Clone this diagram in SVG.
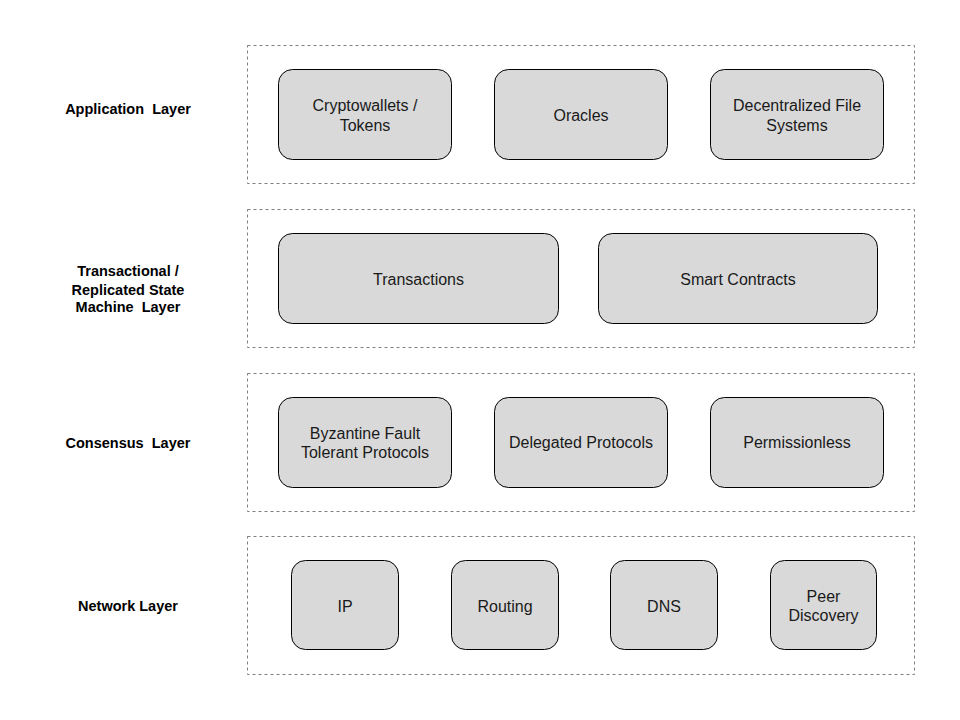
<svg xmlns="http://www.w3.org/2000/svg" width="960" height="720" viewBox="0 0 960 720">
<style>
.layer{fill:none;stroke:#808080;stroke-width:1;stroke-dasharray:3,3}
.node{fill:#d9d9d9;stroke:#000;stroke-width:1}
.t{font-family:"Liberation Sans",Arial,sans-serif;font-size:16px;fill:#1a1a1a;text-anchor:middle}
.lbl{font-family:"Liberation Sans",Arial,sans-serif;font-size:14.5px;font-weight:bold;fill:#000;text-anchor:middle;white-space:pre}
</style>
<rect width="960" height="720" fill="#fff"/>
<g id="layers">
<rect class="layer" x="247.5" y="45.5" width="667" height="138"/>
<rect class="layer" x="247.5" y="209.5" width="667" height="138"/>
<rect class="layer" x="247.5" y="373.5" width="667" height="138"/>
<rect class="layer" x="247.5" y="536.5" width="667" height="138"/>
</g>
<g id="labels">
<text class="lbl" x="128" y="114" xml:space="preserve">Application  Layer</text>
<text class="lbl" xml:space="preserve"><tspan x="128" y="276">Transactional /</tspan><tspan x="128" y="295">Replicated State</tspan><tspan x="128" y="312">Machine  Layer</tspan></text>
<text class="lbl" x="128" y="448" xml:space="preserve">Consensus  Layer</text>
<text class="lbl" x="128" y="611">Network Layer</text>
</g>
<g id="n-crypto"><rect class="node" x="278.5" y="69.5" width="173" height="90" rx="14"/><text class="t"><tspan x="365" y="111">Cryptowallets /</tspan><tspan x="365" y="131">Tokens</tspan></text></g>
<g id="n-oracles"><rect class="node" x="494.5" y="69.5" width="173" height="90" rx="14"/><text class="t" x="581" y="121">Oracles</text></g>
<g id="n-dfs"><rect class="node" x="710.5" y="69.5" width="173" height="90" rx="14"/><text class="t"><tspan x="797" y="111">Decentralized File</tspan><tspan x="797" y="131">Systems</tspan></text></g>
<g id="n-tx"><rect class="node" x="278.5" y="233.5" width="280" height="90" rx="14"/><text class="t" x="418.5" y="285">Transactions</text></g>
<g id="n-sc"><rect class="node" x="598.5" y="233.5" width="279" height="90" rx="14"/><text class="t" x="738" y="285">Smart Contracts</text></g>
<g id="n-bft"><rect class="node" x="278.5" y="397.5" width="173" height="90" rx="14"/><text class="t"><tspan x="365" y="439">Byzantine Fault</tspan><tspan x="365" y="458">Tolerant Protocols</tspan></text></g>
<g id="n-dp"><rect class="node" x="494.5" y="397.5" width="173" height="90" rx="14"/><text class="t" x="581" y="448">Delegated Protocols</text></g>
<g id="n-perm"><rect class="node" x="710.5" y="397.5" width="173" height="90" rx="14"/><text class="t" x="797" y="448">Permissionless</text></g>
<g id="n-ip"><rect class="node" x="291.5" y="560.5" width="107" height="89" rx="14"/><text class="t" x="345" y="612">IP</text></g>
<g id="n-routing"><rect class="node" x="451.5" y="560.5" width="107" height="89" rx="14"/><text class="t" x="505" y="612">Routing</text></g>
<g id="n-dns"><rect class="node" x="610.5" y="560.5" width="107" height="89" rx="14"/><text class="t" x="664" y="612">DNS</text></g>
<g id="n-peer"><rect class="node" x="770.5" y="560.5" width="106" height="89" rx="14"/><text class="t"><tspan x="823.5" y="602">Peer</tspan><tspan x="823.5" y="621">Discovery</tspan></text></g>
<g id="connectors"></g>
</svg>
